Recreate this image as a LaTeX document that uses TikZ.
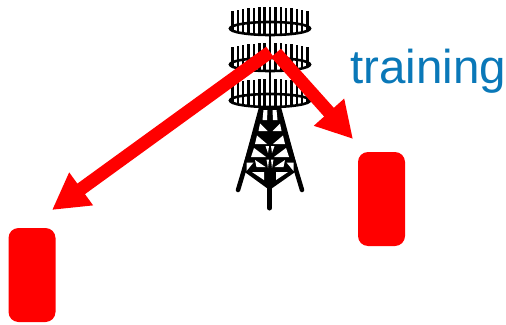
\documentclass[tikz,border=0pt]{standalone}
\usepackage{fontspec}
\setmainfont{Liberation Sans}
\usetikzlibrary{arrows.meta}
\definecolor{lbl}{HTML}{0A78B8}
\tikzset{
  phone/.style={fill=red,draw=none,rounded corners=10pt,minimum width=47pt,minimum height=94pt,inner sep=0pt},
  beam/.style={draw=red,line width=13pt,-{Triangle[length=36pt,width=38pt,fill=red]}},
  twr/.style={draw=black,line width=4.5pt,line cap=round},
  antring/.pic={
    \foreach \i in {-7,...,7}{
      \pgfmathsetmacro{\dx}{\i*5.35}
      \pgfmathsetmacro{\yb}{6.5*sqrt(1-(\dx/40.5)^2)}
      \pgfmathsetmacro{\yt}{-21.5+5*(\dx/40)^2}
      \draw[black,line width=2.4pt] (\dx,\yb) -- (\dx,\yt);
    }
    \draw[black,line width=2.6pt,fill=none] (0,0) ellipse [x radius=40,y radius=6.5];
  }
}
\begin{document}
\begin{tikzpicture}[x=1pt,y=-1pt]
\useasboundingbox (0,0) rectangle (506,324);
% tower
\draw[black,line width=2.6pt] (270,28) -- (270,100);
\pic at (270,28.5) {antring};
\pic at (270,64.5) {antring};
\pic at (270,100.5) {antring};
\coordinate (apexL) at (262,110);
\coordinate (apexR) at (278,110);
\coordinate (footL) at (238,190);
\coordinate (footR) at (302,190);
\coordinate (mastTop) at (269.5,180);
\coordinate (mastEnd) at (269.5,208);
\fill[black] (259,107) -- (281,107) -- (298,170) -- (269.5,190) -- (242,170) -- cycle;
\draw[twr] (apexL) -- (footL);
\draw[twr] (apexR) -- (footR);
\draw[twr,line width=5pt] (mastTop) -- (mastEnd);
\foreach \s in {-1,1}{
  \begin{scope}[xshift=270pt,xscale=\s]
    \fill[white] (2.5,110) -- (6.5,110) -- (7.5,120) -- (3,120) -- cycle;
    \fill[white] (2.5,131) -- (10,123.5) -- (11.5,131) -- cycle;
    \fill[white] (3,144) -- (13,135.5) -- (15,144) -- cycle;
    \fill[white] (4,157) -- (16,148) -- (19,157) -- cycle;
    \fill[white] (1,146) -- (4.5,146) -- (2,153) -- cycle;
    \fill[white] (16.5,162.5) -- (23.5,162.5) -- (23.5,171) -- cycle;
    \fill[white] (4.5,167) -- (15,160) -- (13.5,167) -- cycle;
    \fill[white] (6,172) -- (18,172) -- (6,180) -- cycle;
    \fill[white] (1,159.5) -- (3.5,159.5) -- (2,168) -- cycle;
  \end{scope}
}
% phones
\node[phone] (phoneR) at (381.5,199) {};
\node[phone] (phoneL) at (32,275) {};
% arrows
\coordinate (srcL) at (270,52);
\coordinate (srcR) at (276,53);
\coordinate (tipL) at (52,210);
\coordinate (tipR) at (353,139);
\draw[beam] (srcL) -- (tipL);
\draw[beam] (srcR) -- (tipR);
% label
\node[anchor=base west,inner sep=0pt,text=lbl,font=\fontsize{47.5}{50}\selectfont] (lab) at (350,83) {training};
\end{tikzpicture}
\end{document}
